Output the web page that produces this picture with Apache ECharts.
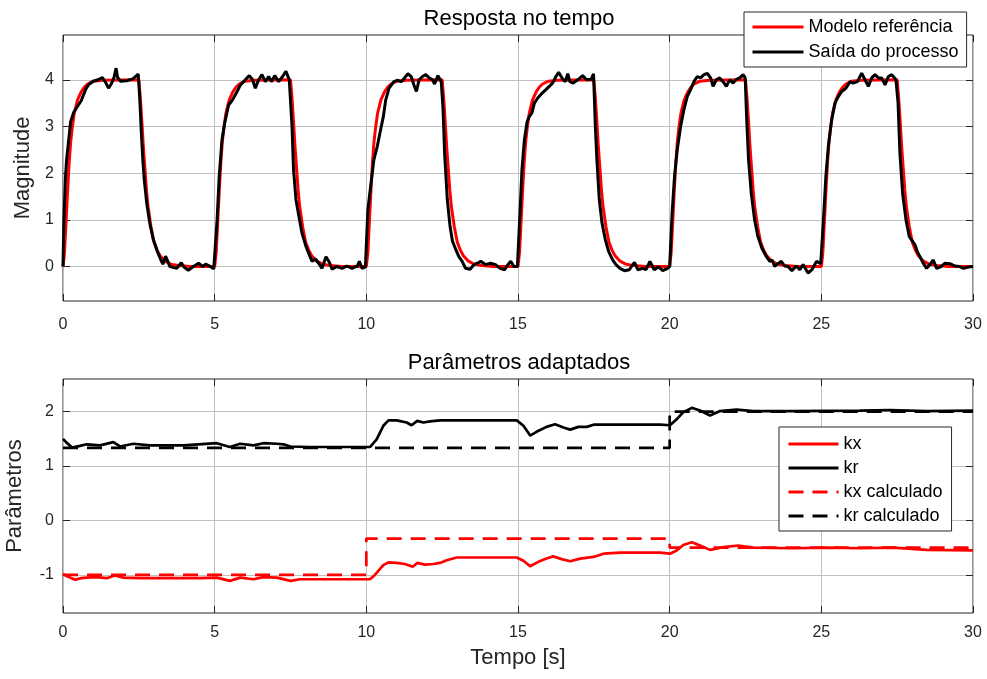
<!DOCTYPE html>
<html lang="pt">
<head>
<meta charset="UTF-8" />
<title>Resposta no tempo</title>
<script src="https://cdn.jsdelivr.net/npm/echarts@6/dist/echarts.min.js"></script>
<style>
  html, body { margin: 0; padding: 0; background: #fff; }
  #main { width: 987px; height: 679px; }
</style>
</head>
<body>
<div id="main"></div>
<script>
// ---- data ----
const xTicks = [0, 5, 10, 15, 20, 25, 30];
const magTicks = [0, 1, 2, 3, 4];
const parTicks = [-1, 0, 1, 2];

// reference model (red), [t, y]
const modelRef = [
  [0,0],[0.05,0.3],[0.1,0.95],[0.15,1.6],[0.2,2.2],[0.25,2.65],[0.3,2.95],[0.37,3.28],[0.48,3.57],[0.6,3.74],[0.7,3.84],[0.81,3.91],[1,3.97],[1.3,3.99],
  [2.5,4],[2.55,3.6],[2.6,3.1],[2.65,2.55],[2.7,2.1],[2.75,1.65],[2.8,1.3],[2.9,0.85],[3,0.52],[3.1,0.35],[3.2,0.23],[3.35,0.12],[3.55,0.05],[3.8,0.02],[4.2,0],
  [5,0],[5.05,0.3],[5.1,0.95],[5.15,1.6],[5.2,2.2],[5.25,2.65],[5.3,2.95],[5.37,3.28],[5.48,3.57],[5.6,3.74],[5.7,3.84],[5.81,3.91],[6,3.97],[6.3,3.99],
  [7.5,4],[7.55,3.6],[7.6,3.1],[7.65,2.55],[7.7,2.1],[7.75,1.65],[7.8,1.3],[7.9,0.85],[8,0.52],[8.1,0.35],[8.2,0.23],[8.35,0.12],[8.55,0.05],[8.8,0.02],[9.2,0],
  [10,0],[10.05,0.3],[10.1,0.95],[10.15,1.6],[10.2,2.2],[10.25,2.65],[10.3,2.95],[10.37,3.28],[10.48,3.57],[10.6,3.74],[10.7,3.84],[10.81,3.91],[11,3.97],[11.3,3.99],
  [12.5,4],[12.55,3.6],[12.6,3.1],[12.65,2.55],[12.7,2.1],[12.75,1.65],[12.8,1.3],[12.9,0.85],[13,0.52],[13.1,0.35],[13.2,0.23],[13.35,0.12],[13.55,0.05],[13.8,0.02],[14.2,0],
  [15,0],[15.05,0.3],[15.1,0.95],[15.15,1.6],[15.2,2.2],[15.25,2.65],[15.3,2.95],[15.37,3.28],[15.48,3.57],[15.6,3.74],[15.7,3.84],[15.81,3.91],[16,3.97],[16.3,3.99],
  [17.5,4],[17.55,3.6],[17.6,3.1],[17.65,2.55],[17.7,2.1],[17.75,1.65],[17.8,1.3],[17.9,0.85],[18,0.52],[18.1,0.35],[18.2,0.23],[18.35,0.12],[18.55,0.05],[18.8,0.02],[19.2,0],
  [20,0],[20.05,0.3],[20.1,0.95],[20.15,1.6],[20.2,2.2],[20.25,2.65],[20.3,2.95],[20.37,3.28],[20.48,3.57],[20.6,3.74],[20.7,3.84],[20.81,3.91],[21,3.97],[21.3,3.99],
  [22.5,4],[22.55,3.6],[22.6,3.1],[22.65,2.55],[22.7,2.1],[22.75,1.65],[22.8,1.3],[22.9,0.85],[23,0.52],[23.1,0.35],[23.2,0.23],[23.35,0.12],[23.55,0.05],[23.8,0.02],[24.2,0],
  [25,0],[25.05,0.3],[25.1,0.95],[25.15,1.6],[25.2,2.2],[25.25,2.65],[25.3,2.95],[25.37,3.28],[25.48,3.57],[25.6,3.74],[25.7,3.84],[25.81,3.91],[26,3.97],[26.3,3.99],
  [27.5,4],[27.55,3.6],[27.6,3.1],[27.65,2.55],[27.7,2.1],[27.75,1.65],[27.8,1.3],[27.9,0.85],[28,0.52],[28.1,0.35],[28.2,0.23],[28.35,0.12],[28.55,0.05],[28.8,0.02],[29.2,0],[30,0]
];

// process output (black), [t, y]
const processOut = [
  [0,0],[0.03,1.0],[0.08,1.9],[0.12,2.3],[0.17,2.6],[0.25,3.1],[0.35,3.3],[0.45,3.4],[0.6,3.55],[0.75,3.8],[0.85,3.9],[1.0,3.97],[1.15,4.0],[1.3,4.05],[1.4,3.95],[1.5,3.82],[1.6,3.92],[1.68,4.05],[1.75,4.25],[1.8,4.05],[1.9,3.97],[2.1,3.98],[2.3,4.02],[2.48,4.12],
  [2.53,3.6],[2.58,2.9],[2.63,2.3],[2.68,1.85],[2.76,1.36],[2.86,0.93],[2.98,0.57],[3.13,0.29],[3.25,0.1],[3.3,0.05],[3.38,0.22],[3.45,0.12],[3.52,0.0],[3.62,-0.02],[3.75,-0.04],[3.9,0.08],[4.0,-0.02],[4.13,-0.08],[4.3,0.0],[4.47,0.07],[4.6,0.0],[4.7,0.05],[4.8,0.02],[4.97,-0.05],
  [5.0,-0.04],[5.08,1.0],[5.15,1.93],[5.24,2.71],[5.33,3.07],[5.46,3.46],[5.59,3.57],[5.74,3.75],[5.85,3.89],[6.01,4.0],[6.14,4.09],[6.25,4.0],[6.34,3.82],[6.45,4.0],[6.56,4.11],[6.67,3.96],[6.78,4.07],[6.87,3.96],[6.98,4.09],[7.11,3.96],[7.24,4.07],[7.35,4.18],[7.46,4.0],[7.52,3.96],
  [7.55,3.0],[7.6,2.07],[7.68,1.43],[7.77,1.1],[7.88,0.71],[8.01,0.43],[8.12,0.25],[8.21,0.11],[8.32,0.16],[8.43,0.07],[8.54,-0.04],[8.67,0.21],[8.78,0.09],[8.87,-0.06],[9.03,0.0],[9.2,-0.04],[9.36,0.01],[9.53,-0.04],[9.7,0.01],[9.77,0.11],[9.86,-0.04],[9.97,-0.01],
  [10.0,0.0],[10.05,1.21],[10.14,1.71],[10.25,2.29],[10.36,2.57],[10.47,2.93],[10.56,3.21],[10.64,3.57],[10.75,3.82],[10.91,3.96],[11.02,3.99],[11.15,3.96],[11.26,4.04],[11.37,4.13],[11.48,4.07],[11.57,3.89],[11.65,3.75],[11.74,4.0],[11.85,4.07],[11.96,4.11],[12.07,4.04],[12.18,4.0],[12.25,3.91],[12.36,4.09],[12.47,3.96],
  [12.53,3.36],[12.58,2.43],[12.67,1.43],[12.76,0.86],[12.84,0.54],[12.95,0.36],[13.05,0.21],[13.16,0.11],[13.27,-0.04],[13.42,-0.06],[13.55,0.04],[13.66,0.07],[13.77,0.11],[13.93,0.04],[14.1,0.07],[14.26,0.04],[14.41,-0.04],[14.56,-0.07],[14.67,0.04],[14.76,0.11],[14.87,0.0],[14.98,0.0],
  [15.0,0.0],[15.07,1.21],[15.13,2.07],[15.21,2.71],[15.3,3.1],[15.37,3.21],[15.46,3.29],[15.54,3.5],[15.65,3.61],[15.79,3.71],[15.92,3.79],[16.03,3.86],[16.14,3.93],[16.25,4.07],[16.34,4.16],[16.45,4.04],[16.56,3.96],[16.64,4.13],[16.71,3.96],[16.82,3.93],[16.97,4.0],[17.13,4.09],[17.26,4.0],[17.41,4.01],[17.49,4.13],
  [17.55,3.0],[17.6,2.29],[17.68,1.43],[17.77,0.93],[17.88,0.57],[17.99,0.32],[18.12,0.14],[18.23,0.04],[18.36,-0.04],[18.51,-0.09],[18.67,-0.07],[18.84,0.09],[18.95,-0.07],[19.11,-0.04],[19.22,-0.07],[19.35,0.11],[19.49,-0.07],[19.63,-0.01],[19.77,-0.09],[19.93,-0.04],
  [20.0,0.0],[20.08,1.14],[20.16,1.93],[20.25,2.5],[20.36,3.0],[20.47,3.36],[20.58,3.64],[20.69,3.79],[20.8,3.96],[20.91,4.07],[21.02,4.04],[21.13,4.11],[21.24,4.14],[21.35,4.04],[21.43,3.86],[21.54,4.0],[21.65,4.04],[21.76,3.96],[21.87,3.86],[21.98,4.0],[22.09,3.93],[22.2,4.01],[22.31,4.04],[22.42,4.11],[22.49,4.04],
  [22.54,3.14],[22.6,2.29],[22.69,1.57],[22.8,1.0],[22.91,0.64],[23.04,0.39],[23.19,0.21],[23.3,0.11],[23.38,0.14],[23.46,0.0],[23.57,0.06],[23.68,0.11],[23.79,0.01],[23.9,0.0],[24.03,-0.09],[24.18,0.01],[24.29,-0.07],[24.4,0.04],[24.56,-0.14],[24.7,-0.06],[24.84,0.11],[24.98,0.06],
  [25.0,0.04],[25.07,1.0],[25.15,1.93],[25.23,2.57],[25.34,3.14],[25.45,3.5],[25.56,3.64],[25.67,3.75],[25.81,3.82],[25.95,3.96],[26.05,3.93],[26.19,3.96],[26.33,4.14],[26.44,4.0],[26.55,3.86],[26.66,4.04],[26.77,4.11],[26.88,4.04],[26.99,4.04],[27.1,3.89],[27.21,4.07],[27.32,4.11],[27.46,4.0],
  [27.53,3.5],[27.59,2.43],[27.68,1.57],[27.79,1.0],[27.9,0.64],[28.01,0.54],[28.09,0.46],[28.16,0.32],[28.25,0.21],[28.36,0.07],[28.47,-0.04],[28.58,0.04],[28.69,0.14],[28.8,-0.04],[28.93,-0.01],[29.08,0.07],[29.24,0.06],[29.41,0.01],[29.55,0.0],[29.68,-0.04],[29.85,-0.01],[30.0,0.0]
];

// adapted parameters
const kx = [
  [0,-0.98],[0.15,-1.03],[0.4,-1.09],[0.6,-1.06],[0.78,-1.05],[1.1,-1.04],[1.44,-1.06],[1.71,-1.01],[1.99,-1.05],[2.54,-1.06],[3.42,-1.06],[4.52,-1.06],[5.07,-1.05],[5.5,-1.11],[5.84,-1.05],[6.28,-1.08],[6.6,-1.04],[7.05,-1.05],[7.5,-1.11],[7.81,-1.08],[8.8,-1.08],
  [10.12,-1.08],[10.28,-1.0],[10.56,-0.82],[10.73,-0.77],[11.0,-0.78],[11.27,-0.8],[11.53,-0.85],[11.68,-0.78],[11.93,-0.81],[12.21,-0.8],[12.43,-0.78],[12.65,-0.73],[12.98,-0.68],[13.75,-0.68],[14.96,-0.68],
  [15.18,-0.74],[15.4,-0.84],[15.67,-0.76],[15.94,-0.7],[16.16,-0.66],[16.44,-0.71],[16.72,-0.75],[17.05,-0.7],[17.49,-0.67],[17.82,-0.61],[18.37,-0.59],[19.68,-0.59],
  [20.01,-0.61],[20.23,-0.55],[20.45,-0.45],[20.73,-0.4],[21.0,-0.46],[21.33,-0.54],[21.77,-0.49],[22.26,-0.46],[22.76,-0.5],[24.07,-0.51],[25.17,-0.5],[26.27,-0.51],[27.36,-0.5],[28.47,-0.54],[30,-0.55]
];
const kr = [
  [0,1.5],[0.1,1.44],[0.3,1.34],[0.56,1.37],[0.78,1.4],[1.22,1.38],[1.66,1.44],[1.88,1.36],[2.32,1.41],[2.87,1.38],[3.97,1.38],[5.07,1.42],[5.5,1.35],[5.84,1.41],[6.28,1.38],[6.6,1.42],[7.05,1.41],[7.27,1.4],[7.5,1.36],[8.14,1.35],[8.8,1.35],
  [10.12,1.35],[10.34,1.49],[10.56,1.74],[10.73,1.84],[11.0,1.84],[11.33,1.8],[11.49,1.75],[11.68,1.83],[11.88,1.8],[12.1,1.82],[12.43,1.84],[13.2,1.84],[14.3,1.84],[14.96,1.84],
  [15.18,1.74],[15.4,1.56],[15.61,1.63],[15.94,1.72],[16.22,1.77],[16.5,1.71],[16.72,1.67],[16.99,1.72],[17.27,1.72],[17.49,1.76],[18.15,1.76],[19.68,1.76],
  [20.01,1.75],[20.23,1.86],[20.45,1.99],[20.73,2.07],[21.0,2.02],[21.33,1.93],[21.66,2.01],[22.2,2.04],[22.76,2.01],[24.07,2.01],[26.27,2.02],[27.26,2.03],[28.47,2.01],[30,2.02]
];
const kxCalc = [[0,-1],[10,-1],[10,-0.333],[20,-0.333],[20,-0.5],[30,-0.5]];
const krCalc = [[0,1.333],[20,1.333],[20,2],[30,2]];

// ---- chart ----
const FONT = '"Liberation Sans", Arial, Helvetica, sans-serif';
const INK = '#262626';
const GRIDC = '#c0c0c0';
const RED = '#ff0000';
const DASH = [15, 9];

function mainX(gridIndex, margin, name) {
  return {
    type: 'value', gridIndex: gridIndex, min: 0, max: 30,
    axisLine: { show: false, onZero: false },
    axisTick: { inside: true, length: 7, customValues: xTicks, lineStyle: { color: INK } },
    axisLabel: { customValues: xTicks, fontSize: 16, color: INK, margin: margin, fontFamily: FONT },
    splitLine: { show: true, lineStyle: { color: GRIDC, width: 1 } },
    name: name || '', nameLocation: 'middle', nameGap: 34,
    nameTextStyle: { fontSize: 22, color: INK, fontFamily: FONT }
  };
}
function mirrorX(gridIndex) {
  return {
    type: 'value', gridIndex: gridIndex, position: 'top', min: 0, max: 30,
    axisLine: { show: false, onZero: false },
    axisTick: { inside: true, length: 7, customValues: xTicks, lineStyle: { color: INK } },
    axisLabel: { show: false }, splitLine: { show: false }
  };
}
function mainY(gridIndex, min, max, ticks, name, gap) {
  return {
    type: 'value', gridIndex: gridIndex, min: min, max: max,
    axisLine: { show: false, onZero: false },
    axisTick: { inside: true, length: 7, customValues: ticks, lineStyle: { color: INK } },
    axisLabel: { customValues: ticks, fontSize: 16, color: INK, margin: 9, fontFamily: FONT },
    splitLine: { show: true, lineStyle: { color: GRIDC, width: 1 } },
    name: name, nameLocation: 'middle', nameGap: gap,
    nameTextStyle: { fontSize: 22, color: INK, fontFamily: FONT }
  };
}
function mirrorY(gridIndex, min, max, ticks) {
  return {
    type: 'value', gridIndex: gridIndex, position: 'right', min: min, max: max,
    axisLine: { show: false, onZero: false },
    axisTick: { inside: true, length: 7, customValues: ticks, lineStyle: { color: INK } },
    axisLabel: { show: false }, splitLine: { show: false }
  };
}
function line(name, data, xi, yi, color, width, dashed, z) {
  return {
    name: name, type: 'line', xAxisIndex: xi, yAxisIndex: yi, data: data,
    symbol: 'none', z: z,
    lineStyle: { color: color, width: width, type: dashed ? DASH : 'solid' },
    itemStyle: { color: color }
  };
}
const legendBase = {
  orient: 'vertical', itemHeight: 18, backgroundColor: '#fff',
  borderColor: INK, borderWidth: 1, borderRadius: 0,
  itemStyle: { opacity: 0 },
  lineStyle: { width: 3 },
  textStyle: { fontSize: 18, color: '#000', fontFamily: FONT }
};

const chart = echarts.init(document.getElementById('main'));
chart.setOption({
  animation: false,
  backgroundColor: '#fff',
  textStyle: { fontFamily: FONT },
  title: [
    { text: 'Resposta no tempo', left: 519, top: 8, textAlign: 'center', padding: 0,
      textStyle: { fontSize: 22, fontWeight: 'normal', color: '#000', fontFamily: FONT } },
    { text: 'Parâmetros adaptados', left: 519, top: 352, textAlign: 'center', padding: 0,
      textStyle: { fontSize: 22, fontWeight: 'normal', color: '#000', fontFamily: FONT } }
  ],
  legend: [
    Object.assign({}, legendBase, { data: ['Modelo referência', 'Saída do processo'],
      left: 744, top: 12, padding: [6, 8, 6, 7], itemWidth: 51, itemGap: 7 }),
    Object.assign({}, legendBase, { data: ['kx', 'kr', 'kx calculado', 'kr calculado'],
      left: 779, top: 427, padding: [8, 9, 6, 8], itemWidth: 50, itemGap: 6 })
  ],
  grid: [
    { left: 63, top: 35, width: 910, height: 266, outerBoundsMode: 'none', containLabel: false,
      show: true, borderColor: INK, borderWidth: 1, backgroundColor: 'transparent' },
    { left: 63, top: 379, width: 910, height: 234, outerBoundsMode: 'none', containLabel: false,
      show: true, borderColor: INK, borderWidth: 1, backgroundColor: 'transparent' }
  ],
  xAxis: [mainX(0, 16), mirrorX(0), mainX(1, 12, 'Tempo [s]'), mirrorX(1)],
  yAxis: [
    mainY(0, -0.74, 4.96, magTicks, 'Magnitude', 27),
    mirrorY(0, -0.74, 4.96, magTicks),
    mainY(1, -1.7, 2.6, parTicks, 'Parâmetros', 37),
    mirrorY(1, -1.7, 2.6, parTicks)
  ],
  series: [
    line('Modelo referência', modelRef, 0, 0, RED, 3, false, 2),
    line('Saída do processo', processOut, 0, 0, '#000', 3, false, 3),
    line('kx', kx, 2, 2, RED, 2.7, false, 2),
    line('kr', kr, 2, 2, '#000', 2.7, false, 2),
    line('kx calculado', kxCalc, 2, 2, RED, 2.7, true, 3),
    line('kr calculado', krCalc, 2, 2, '#000', 2.7, true, 3)
  ]
});
</script>
</body>
</html>
